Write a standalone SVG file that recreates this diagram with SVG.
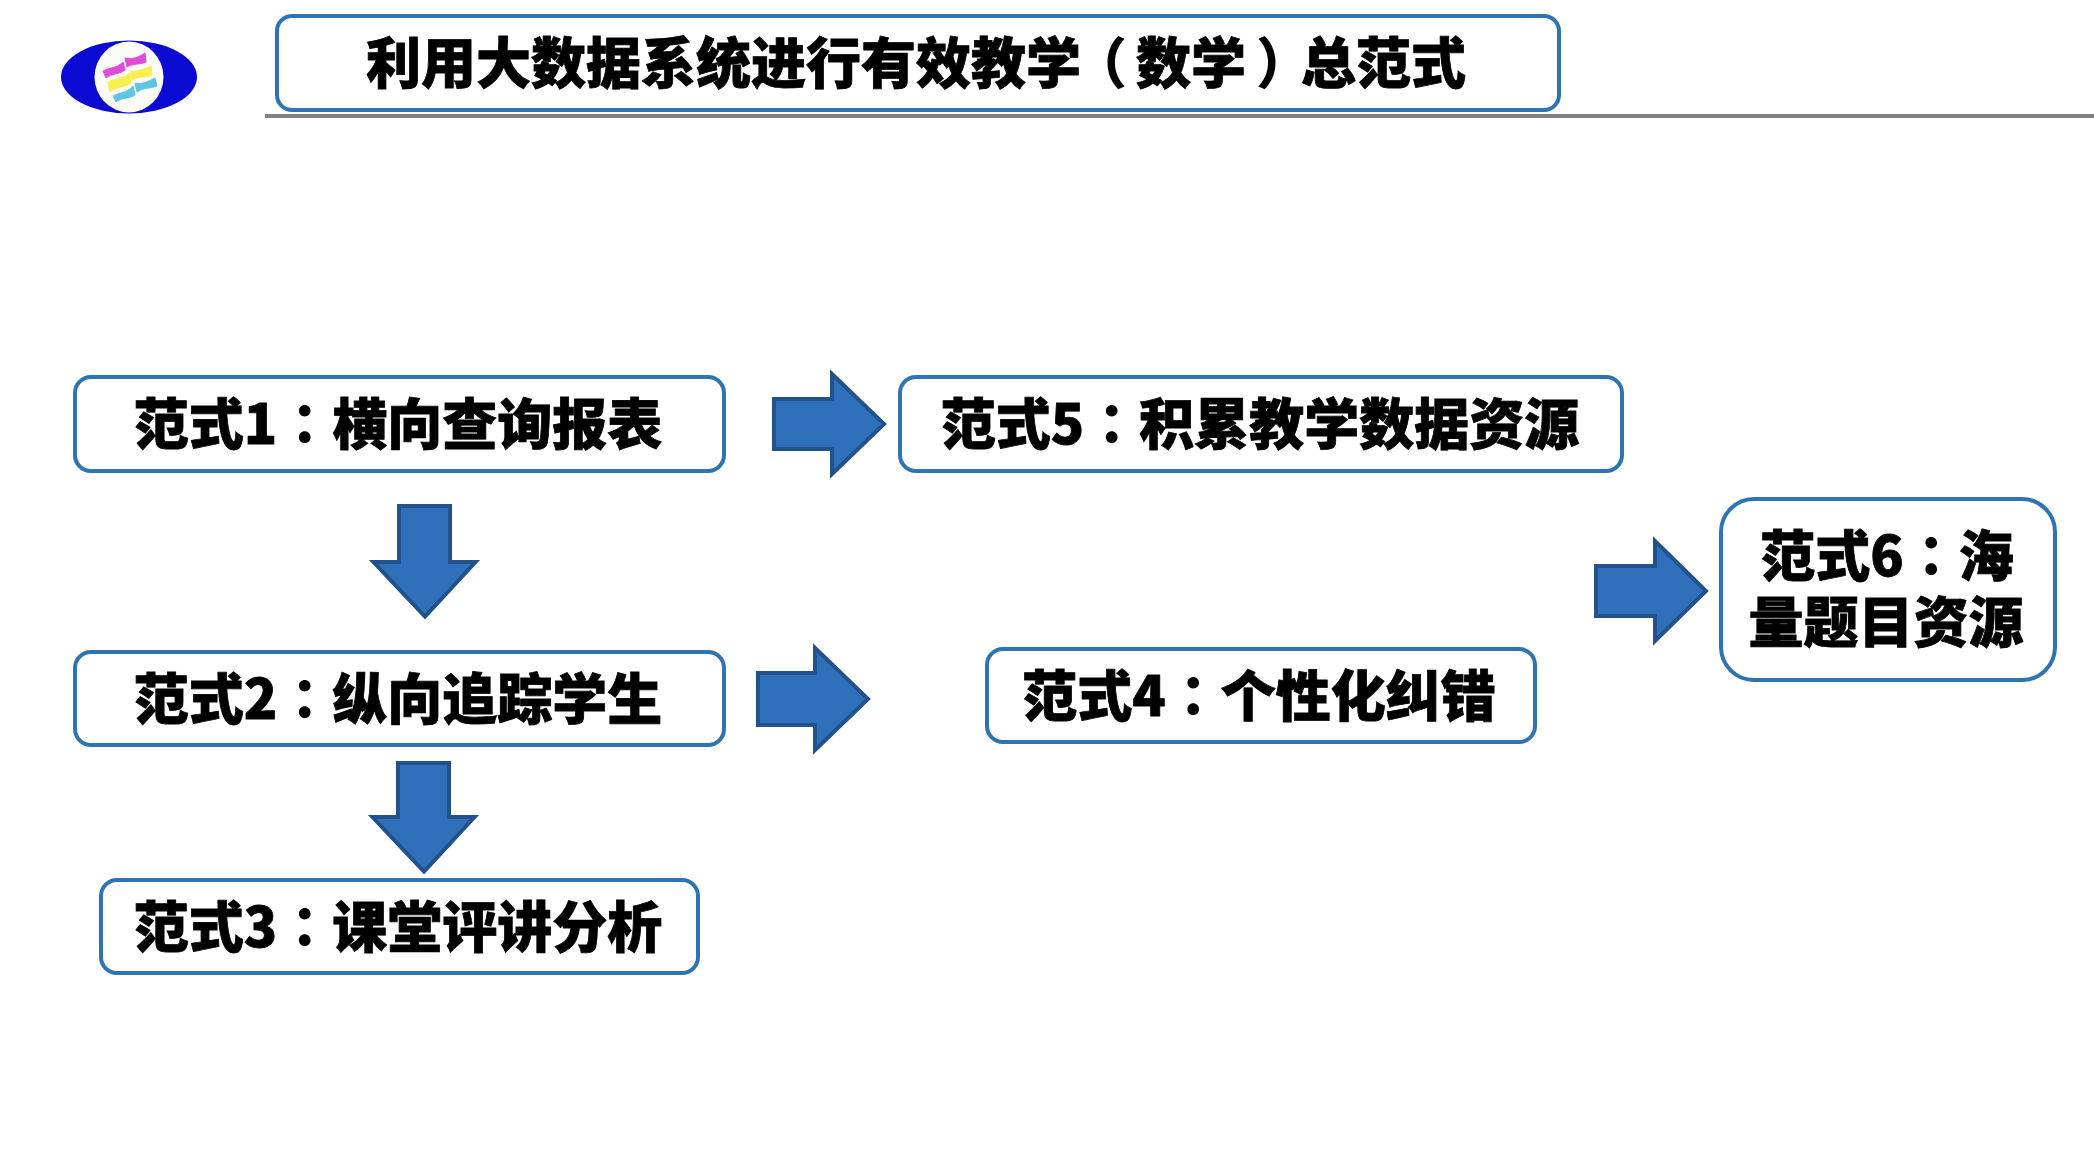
<svg xmlns="http://www.w3.org/2000/svg" width="2094" height="1174" viewBox="0 0 2094 1174">
<style>
.box{fill:#fff;stroke:#2e74b5;stroke-width:4}
.arr{fill:#2e70b9;stroke:#22518c;stroke-width:4;stroke-linejoin:miter}
text{font-family:"Noto Sans CJK SC","Noto Sans",sans-serif;font-weight:900;font-size:55px;fill:#000;stroke:#000;stroke-width:0.800;text-anchor:middle}
.p{font-family:"Noto Sans CJK TC","Noto Sans",sans-serif;stroke-width:0}
.w{stroke-width:1;stroke-linejoin:round}
</style>
<rect width="2094" height="1174" fill="#fff"/>
<g id="logo">
<ellipse cx="129" cy="77" rx="68" ry="36.500" fill="#0a0ad2"/>
<ellipse cx="129" cy="77" rx="34.500" ry="35.500" fill="#fbfcf8"/>
<path class="w" fill="#e24bd8" stroke="#e24bd8" d="M103 71C110 67 116 69 123 62L125 70C118 75 112 73 106 78Z"/>
<path class="w" fill="#e24bd8" stroke="#e24bd8" d="M125 58C132 60 139 57 145 53L146 62C139 65 133 63 127 67Z"/>
<path class="w" fill="#f8f04e" stroke="#f8f04e" d="M108 82C115 78 122 80 130 73L131 83C124 88 117 86 110 92Z"/>
<path class="w" fill="#f8f04e" stroke="#f8f04e" d="M131 71C138 72 145 69 151 66L152 75C145 78 139 76 132 80Z"/>
<path class="w" fill="#5cc4e4" stroke="#5cc4e4" d="M113 96C120 92 126 94 133 86L135 95C128 99 122 97 116 102Z"/>
<path class="w" fill="#5cc4e4" stroke="#5cc4e4" d="M135 83C142 85 149 81 155 78L157 86C150 89 144 87 137 92Z"/>
</g>
<line id="rule" x1="265" y1="116" x2="2094" y2="116" stroke="#808080" stroke-width="4"/>
<g id="title"><rect class="box" x="277" y="16" width="1282" height="94" rx="15"/><text x="916" y="83">利用大数据系统进行有效教学<tspan class="p" dx="-9">（</tspan><tspan dx="9">数学</tspan><tspan class="p" dx="10">）</tspan><tspan dx="-10">总范式</tspan></text></g>
<g id="node1"><rect class="box" x="75" y="377" width="649" height="94" rx="16"/><text x="398" y="444">范式1<tspan class="p">：</tspan>横向查询报表</text></g>
<g id="node2"><rect class="box" x="75" y="652" width="649" height="93" rx="16"/><text x="398" y="719">范式2<tspan class="p">：</tspan>纵向追踪学生</text></g>
<g id="node3"><rect class="box" x="101" y="880" width="597" height="93" rx="16"/><text x="398" y="947">范式3<tspan class="p">：</tspan>课堂评讲分析</text></g>
<g id="node4"><rect class="box" x="987" y="649" width="548" height="93" rx="16"/><text x="1259" y="716">范式4<tspan class="p">：</tspan>个性化纠错</text></g>
<g id="node5"><rect class="box" x="900" y="377" width="722" height="94" rx="16"/><text x="1260" y="444">范式5<tspan class="p">：</tspan>积累教学数据资源</text></g>
<g id="node6"><rect class="box" x="1721" y="499" width="334" height="181" rx="33"/><text x="1887" y="576">范式6<tspan class="p">：</tspan>海</text><text x="1886" y="642">量题目资源</text></g>
<g id="connectors">
<path class="arr" d="M774 399H832V374L884 424L832 474V449H774Z"/>
<path class="arr" d="M399 506V562H373.500L425 616.500L475.500 562H450V506Z"/>
<path class="arr" d="M758 673H815V648L868 699L815 750V725H758Z"/>
<path class="arr" d="M398 763V817H372.500L424 871.500L474.500 817H449V763Z"/>
<path class="arr" d="M1596 566H1655V541L1706 591L1655 641V616H1596Z"/>
</g>
</svg>
